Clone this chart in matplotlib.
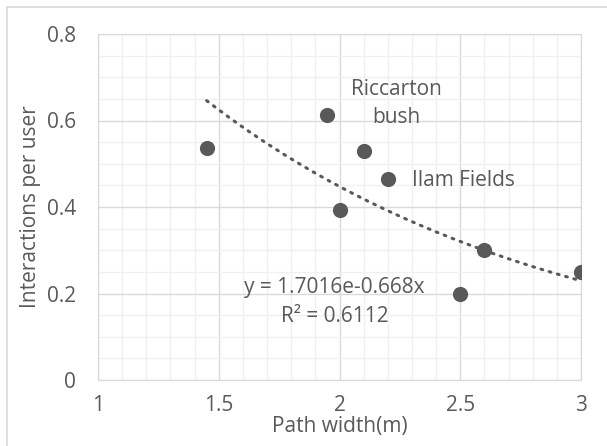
import matplotlib.pyplot as plt
import numpy as np
from matplotlib.ticker import MultipleLocator
from matplotlib.patches import Rectangle

# Datos
path_width = [1.45, 1.95, 2.1, 2.2, 2.0, 2.6, 2.5, 3.0]
interactions = [0.537, 0.612, 0.530, 0.465, 0.393, 0.300, 0.200, 0.250]

# Linea de tendencia exponencial (coeficientes de la etiqueta)
coef_a = 1.7016
coef_b = -0.668
eq_label = "y = 1.7016e-0.668x"
r2_label = "R² = 0.6112"

x_ticks = [1, 1.5, 2, 2.5, 3]
x_tick_labels = ['1', '1.5', '2', '2.5', '3']
y_ticks = [0, 0.2, 0.4, 0.6, 0.8]
y_tick_labels = ['0', '0.2', '0.4', '0.6', '0.8']

gray = "#595959"
fs = 15
plt.rcParams['font.family'] = ['Open Sans', 'DejaVu Sans']

fig = plt.figure(figsize=(6.07, 4.46), dpi=100)
ax = fig.add_axes([98/607, 1-380/446, 483/607, 346/446])

# Borde del grafico
fig.patches.append(Rectangle((7/607, -0.01), 1.0, 1-7/446+0.01, transform=fig.transFigure,
                             fill=False, edgecolor="#d9d9d9", linewidth=1.2))

xt = np.linspace(min(path_width), max(path_width), 200)
ax.plot(xt, coef_a*np.exp(coef_b*xt), linestyle=(0, (0.6, 2.2)), color=gray,
        linewidth=2.2, dash_capstyle='round', zorder=3)
ax.scatter(path_width, interactions, s=120, color=gray, zorder=4, linewidths=0)

ax.set_xlim(1, 3)
ax.set_ylim(0, 0.8)
ax.set_xticks(x_ticks)
ax.set_xticklabels(x_tick_labels)
ax.set_yticks(y_ticks)
ax.set_yticklabels(y_tick_labels)
ax.xaxis.set_minor_locator(MultipleLocator(0.1))
ax.yaxis.set_minor_locator(MultipleLocator(0.05))
ax.grid(which='major', color="#d9d9d9", linewidth=1.0)
ax.grid(which='minor', color="#f0f0f0", linewidth=1.0)
ax.set_axisbelow(True)
for s in ax.spines.values():
    s.set_color("#d9d9d9")
ax.tick_params(which='both', length=0, labelsize=fs, colors=gray)
ax.tick_params(axis='x', pad=11)
ax.tick_params(axis='y', pad=16)

ax.set_xlabel('Path width(m)', fontsize=fs, color=gray, labelpad=0)
ax.set_ylabel('Interactions per user', fontsize=fs, color=gray, labelpad=4)

ax.text(2.235, 0.640, 'Riccarton\nbush', fontsize=fs, color=gray, ha='center', va='center', linespacing=1.45)
ax.text(2.30, 0.462, 'Ilam Fields', fontsize=fs, color=gray, ha='left', va='center')
ax.text(1.98, 0.213, eq_label, fontsize=fs, color=gray, ha='center', va='center')
ax.text(1.98, 0.146, r2_label, fontsize=fs, color=gray, ha='center', va='center')

plt.savefig('out.png', dpi=100)
